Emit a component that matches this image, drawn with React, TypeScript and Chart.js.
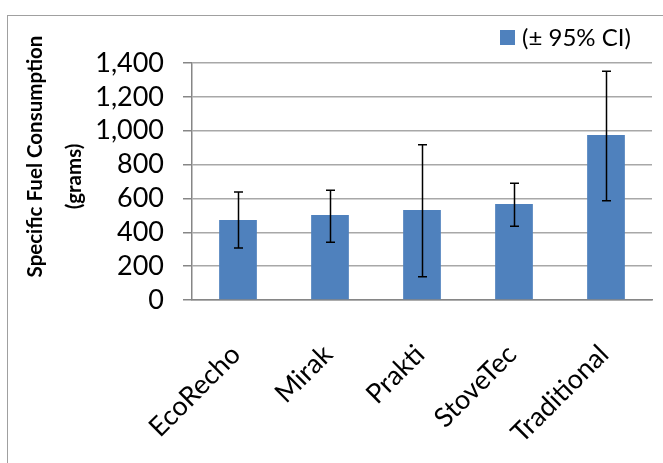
import React, { useEffect, useRef } from 'react';
import { Chart, registerables } from 'chart.js';

Chart.register(...registerables);

const categories = ['EcoRecho', 'Mirak', 'Prakti', 'StoveTec', 'Traditional'];
const meanValues = [472, 502, 531, 567, 975];
const ciLower = [307, 341, 138, 435, 587];
const ciUpper = [638, 648, 917, 689, 1351];
const seriesLabel = '(± 95% CI)';
const yTitleLines = ['Specific Fuel Consumption', '(grams)'];
const yMin = 0;
const yMax = 1400;
const yStep = 200;

const FONT = 'Lato, "Open Sans", sans-serif';
const BAR_COLOR = '#4F81BD';
const GRID_COLOR = '#a8a8a8';
const AXIS_COLOR = '#868686';

const framePlugin = {
  id: 'frame',
  beforeDraw(chart: any) {
    const { ctx, width, height } = chart;
    ctx.save();
    ctx.fillStyle = '#ffffff';
    ctx.fillRect(0, 0, width, height);
    ctx.strokeStyle = '#a0a0a0';
    ctx.lineWidth = 1;
    ctx.strokeRect(7.5, 15.5, width + 20, height + 20);
    ctx.restore();
  },
};

const errorBarPlugin = {
  id: 'errorBars',
  afterDatasetsDraw(chart: any) {
    const { ctx } = chart;
    const meta = chart.getDatasetMeta(0);
    const yScale = chart.scales.y;
    ctx.save();
    ctx.strokeStyle = '#000000';
    ctx.lineWidth = 1.5;
    meta.data.forEach((bar: any, i: number) => {
      const x = Math.round(bar.x) + 0.5;
      const yTop = yScale.getPixelForValue(ciUpper[i]);
      const yBot = yScale.getPixelForValue(ciLower[i]);
      const cap = 4.5;
      ctx.beginPath();
      ctx.moveTo(x, yTop);
      ctx.lineTo(x, yBot);
      ctx.moveTo(x - cap, yTop);
      ctx.lineTo(x + cap, yTop);
      ctx.moveTo(x - cap, yBot);
      ctx.lineTo(x + cap, yBot);
      ctx.stroke();
    });
    ctx.restore();
  },
};

// category labels, rotated 45°, anchored under each category tick
const xLabelPlugin = {
  id: 'xLabels',
  afterDraw(chart: any) {
    const { ctx } = chart;
    const xScale = chart.scales.x;
    const labels: string[] = chart.data.labels;
    ctx.save();
    ctx.fillStyle = '#000000';
    ctx.font = `27px ${FONT}`;
    ctx.textAlign = 'right';
    ctx.textBaseline = 'middle';
    labels.forEach((label, i) => {
      const x = xScale.getPixelForTick(i) - 2;
      const y = xScale.top + 50;
      ctx.save();
      ctx.translate(x, y);
      ctx.rotate(-Math.PI / 4);
      ctx.fillText(label, 0, 0);
      ctx.restore();
    });
    ctx.restore();
  },
};

const legendPlugin = {
  id: 'customLegend',
  afterDraw(chart: any) {
    const { ctx, chartArea } = chart;
    const ds = chart.data.datasets[0];
    const boxX = chartArea.right - 152;
    const boxY = chartArea.top - 33;
    ctx.save();
    ctx.fillStyle = ds.backgroundColor;
    ctx.fillRect(boxX, boxY, 15, 15);
    ctx.fillStyle = '#000000';
    ctx.font = `24px ${FONT}`;
    ctx.textAlign = 'left';
    ctx.textBaseline = 'middle';
    ctx.fillText(ds.label, boxX + 22, boxY + 8.5);
    ctx.restore();
  },
};

const yTitlePlugin = {
  id: 'yTitle',
  afterDraw(chart: any) {
    const { ctx, chartArea } = chart;
    const mid = (chartArea.top + chartArea.bottom) / 2;
    const pos = [
      { x: 35, y: mid - 25 },
      { x: 74.5, y: mid - 5 },
    ];
    ctx.save();
    ctx.fillStyle = '#000000';
    ctx.font = `bold 20.5px ${FONT}`;
    ctx.textAlign = 'center';
    ctx.textBaseline = 'middle';
    yTitleLines.forEach((line, i) => {
      ctx.save();
      ctx.translate(pos[i].x, pos[i].y);
      ctx.rotate(-Math.PI / 2);
      ctx.fillText(line, 0, 0);
      ctx.restore();
    });
    ctx.restore();
  },
};

export default function App() {
  const canvasRef = useRef<HTMLCanvasElement | null>(null);

  useEffect(() => {
    if (!canvasRef.current) return;
    const chart = new Chart(canvasRef.current, {
      type: 'bar',
      data: {
        labels: categories,
        datasets: [
          {
            label: seriesLabel,
            data: meanValues,
            backgroundColor: BAR_COLOR,
            borderWidth: 0,
            barPercentage: 0.41,
            categoryPercentage: 1,
          },
        ],
      },
      options: {
        responsive: false,
        animation: false,
        devicePixelRatio: 1,
        layout: { padding: { left: 0, top: 63, right: 11, bottom: 0 } },
        plugins: {
          legend: { display: false },
          tooltip: { enabled: false },
          title: { display: false },
        },
        scales: {
          x: {
            grid: { display: false, drawTicks: false },
            border: { display: true, color: AXIS_COLOR, width: 1.5 },
            ticks: { display: false },
            afterFit(scale: any) {
              scale.height = 163;
            },
          },
          y: {
            min: yMin,
            max: yMax,
            grid: {
              color: GRID_COLOR,
              lineWidth: 1.5,
              drawTicks: true,
              tickLength: 9,
              tickColor: AXIS_COLOR,
            },
            border: { display: true, color: AXIS_COLOR, width: 1.5 },
            ticks: {
              stepSize: yStep,
              autoSkip: false,
              color: '#000000',
              font: { family: FONT, size: 27 },
              padding: 19,
              callback: (v: any) => Number(v).toLocaleString('en-US'),
            },
            afterFit(scale: any) {
              scale.width = 192;
            },
          },
        },
      },
      plugins: [framePlugin, errorBarPlugin, xLabelPlugin, legendPlugin, yTitlePlugin],
    });
    return () => chart.destroy();
  }, []);

  return (
    <div style={{ position: 'absolute', left: 0, top: 0, width: 663, height: 463 }}>
      <canvas ref={canvasRef} width={663} height={463} style={{ display: 'block' }} />
    </div>
  );
}
